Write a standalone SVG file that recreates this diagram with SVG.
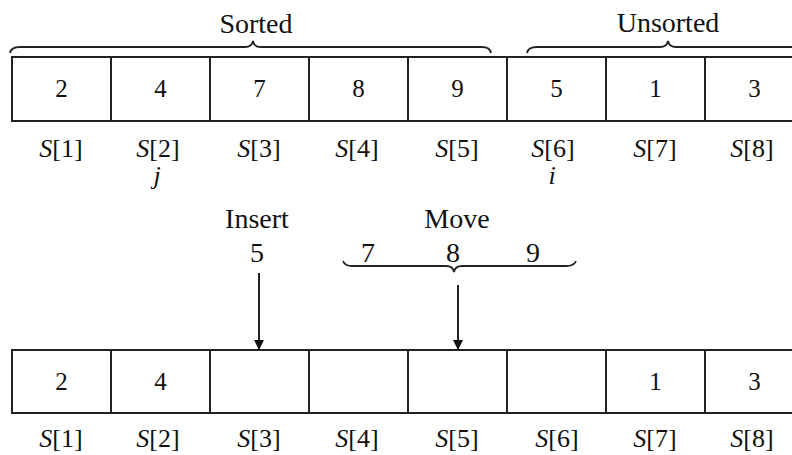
<svg xmlns="http://www.w3.org/2000/svg" width="792" height="455" viewBox="0 0 792 455">
<style>
.cell{fill:#fff;stroke:#222;stroke-width:2}
.num{font-family:"Liberation Serif",serif;font-size:25px;fill:#111;text-anchor:middle}
.lbl{font-family:"Liberation Serif",serif;font-size:26px;fill:#111;text-anchor:middle}
.big{font-family:"Liberation Serif",serif;font-size:28px;fill:#111;text-anchor:middle}
.it{font-style:italic}
.brace{fill:none;stroke:#222;stroke-width:1.8}
.conn{stroke:#222;stroke-width:2;fill:none}
</style>
<defs>
<marker id="ah" markerWidth="10" markerHeight="14" refX="10" refY="5" orient="auto" markerUnits="userSpaceOnUse" viewBox="0 0 10 10">
<path d="M0,0 L10,5 L0,10 Z" fill="#111"/>
</marker>
</defs>
<rect width="792" height="455" fill="#fff"/>
<g id="labels-top">
<text class="big" x="256" y="33">Sorted</text>
<text class="big" x="668" y="32">Unsorted</text>
<path class="brace" d="M10,53 Q11,47 20,47 L245,47 Q252,47 253,41 Q254,47 261,47 L482,47 Q490,47 491,53"/>
<path class="brace" d="M527,53 Q528,47 537,47 L660,47 Q667,47 668,41 Q669,47 676,47 L800,47"/>
</g>
<g id="top-array">
<g id="t1"><rect class="cell" x="12" y="57" width="99" height="64"/><text class="num" x="61.5" y="97">2</text></g>
<g id="t2"><rect class="cell" x="111" y="57" width="99" height="64"/><text class="num" x="160.5" y="97">4</text></g>
<g id="t3"><rect class="cell" x="210" y="57" width="99" height="64"/><text class="num" x="259.5" y="97">7</text></g>
<g id="t4"><rect class="cell" x="309" y="57" width="99" height="64"/><text class="num" x="358.5" y="97">8</text></g>
<g id="t5"><rect class="cell" x="408" y="57" width="99" height="64"/><text class="num" x="457.5" y="97">9</text></g>
<g id="t6"><rect class="cell" x="507" y="57" width="99" height="64"/><text class="num" x="556.5" y="97">5</text></g>
<g id="t7"><rect class="cell" x="606" y="57" width="99" height="64"/><text class="num" x="655.5" y="97">1</text></g>
<g id="t8"><rect class="cell" x="705" y="57" width="99" height="64"/><text class="num" x="754.5" y="97">3</text></g>
</g>
<g id="top-index">
<text class="lbl" x="61" y="157"><tspan class="it">S</tspan>[1]</text>
<text class="lbl" x="158" y="157"><tspan class="it">S</tspan>[2]</text>
<text class="lbl" x="259" y="157"><tspan class="it">S</tspan>[3]</text>
<text class="lbl" x="357" y="157"><tspan class="it">S</tspan>[4]</text>
<text class="lbl" x="457" y="157"><tspan class="it">S</tspan>[5]</text>
<text class="lbl" x="553" y="157"><tspan class="it">S</tspan>[6]</text>
<text class="lbl" x="655" y="157"><tspan class="it">S</tspan>[7]</text>
<text class="lbl" x="752" y="157"><tspan class="it">S</tspan>[8]</text>
<text class="lbl it" x="157" y="184">j</text>
<text class="lbl it" x="552" y="184">i</text>
</g>
<g id="insert">
<text class="big" x="257" y="228">Insert</text>
<text class="big" x="257" y="262">5</text>
</g>
<g id="move">
<text class="big" x="457" y="228">Move</text>
<text class="big" x="368" y="262">7</text>
<text class="big" x="453" y="262">8</text>
<text class="big" x="533" y="262">9</text>
<path class="brace" d="M343,261 Q345,266 352,266 L446,266 Q453,266 454,272 Q455,266 462,266 L566,266 Q574,266 576,261"/>
</g>
<g id="connectors">
<line class="conn" x1="259" y1="273" x2="259" y2="350" marker-end="url(#ah)"/>
<line class="conn" x1="458" y1="285" x2="458" y2="350" marker-end="url(#ah)"/>
</g>
<g id="bottom-array">
<g id="b1"><rect class="cell" x="12" y="350" width="99" height="63"/><text class="num" x="61.5" y="390">2</text></g>
<g id="b2"><rect class="cell" x="111" y="350" width="99" height="63"/><text class="num" x="160.5" y="390">4</text></g>
<g id="b3"><rect class="cell" x="210" y="350" width="99" height="63"/></g>
<g id="b4"><rect class="cell" x="309" y="350" width="99" height="63"/></g>
<g id="b5"><rect class="cell" x="408" y="350" width="99" height="63"/></g>
<g id="b6"><rect class="cell" x="507" y="350" width="99" height="63"/></g>
<g id="b7"><rect class="cell" x="606" y="350" width="99" height="63"/><text class="num" x="655.5" y="390">1</text></g>
<g id="b8"><rect class="cell" x="705" y="350" width="99" height="63"/><text class="num" x="754.5" y="390">3</text></g>
</g>
<g id="bottom-index">
<text class="lbl" x="61" y="447"><tspan class="it">S</tspan>[1]</text>
<text class="lbl" x="158" y="447"><tspan class="it">S</tspan>[2]</text>
<text class="lbl" x="259" y="447"><tspan class="it">S</tspan>[3]</text>
<text class="lbl" x="357" y="447"><tspan class="it">S</tspan>[4]</text>
<text class="lbl" x="457" y="447"><tspan class="it">S</tspan>[5]</text>
<text class="lbl" x="557" y="447"><tspan class="it">S</tspan>[6]</text>
<text class="lbl" x="655" y="447"><tspan class="it">S</tspan>[7]</text>
<text class="lbl" x="752" y="447"><tspan class="it">S</tspan>[8]</text>
</g>
</svg>
